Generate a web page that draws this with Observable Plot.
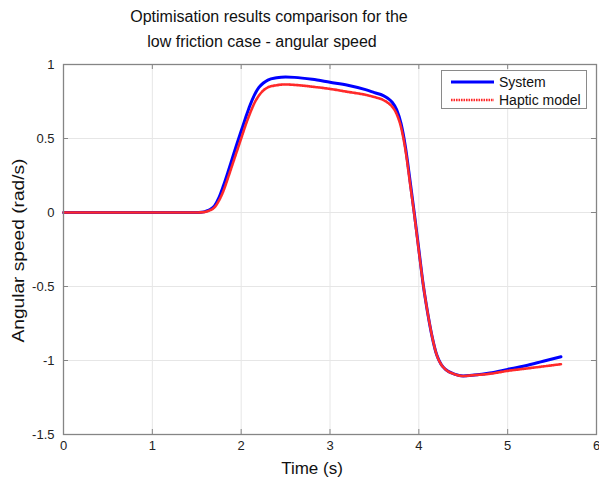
<!DOCTYPE html>
<html>
<head>
<meta charset="utf-8">
<script src="https://cdn.jsdelivr.net/npm/d3@7"></script>
<script src="https://cdn.jsdelivr.net/npm/@observablehq/plot@0.6"></script>
<style>
  body { margin: 0; background: #fff; }
  #wrap { position: relative; width: 599px; height: 479px; font-family: "Liberation Sans", Arial, sans-serif; overflow: hidden; }
  .tl { position: absolute; font-size: 16px; color: #111; white-space: nowrap; transform: translateX(-50%); }
  #legend { position: absolute; left: 441px; top: 70px; width: 146px; height: 39px; border: 1px solid #8a8a8a; background: #fff; box-sizing: border-box; }
  #legend .row { position: absolute; left: 0; height: 18px; display: flex; align-items: center; font-size: 14px; color: #111; }
  #chart { position: absolute; left: 0; top: 58px; }
  svg { overflow: visible; }
</style>
</head>
<body>
<div id="wrap">
  <div class="tl" style="left:269px; top:8px;">Optimisation results comparison for the</div>
  <div class="tl" style="left:262px; top:33px;">low friction case - angular speed</div>
  <div id="chart"></div>
  <div id="legend"></div>
</div>
<script>
const xTicks = [0, 1, 2, 3, 4, 5, 6];
const yTicks = [-1.5, -1, -0.5, 0, 0.5, 1];
const seriesNames = ["System", "Haptic model"];
const time = [0, 0.5, 1.0, 1.5, 1.55, 1.6, 1.65, 1.7, 1.75, 1.8, 1.85, 1.9, 1.95, 2.0, 2.05, 2.1, 2.15, 2.2, 2.25, 2.3, 2.4, 2.5, 2.6, 2.8, 3.0, 3.2, 3.4, 3.5, 3.6, 3.65, 3.7, 3.75, 3.8, 3.85, 3.9, 3.95, 4.0, 4.05, 4.1, 4.15, 4.2, 4.25, 4.3, 4.4, 4.5, 4.6, 4.8, 5.0, 5.2, 5.4, 5.6];
const system = [0, 0, 0, 0, 0.002, 0.008, 0.02, 0.045, 0.1, 0.18, 0.27, 0.365, 0.46, 0.55, 0.64, 0.725, 0.795, 0.845, 0.875, 0.895, 0.91, 0.915, 0.913, 0.9, 0.88, 0.86, 0.83, 0.81, 0.79, 0.772, 0.745, 0.695, 0.6, 0.44, 0.22, -0.01, -0.25, -0.49, -0.68, -0.84, -0.96, -1.025, -1.06, -1.092, -1.105, -1.1, -1.085, -1.06, -1.035, -1.005, -0.975];
const haptic = [0, 0, 0, 0, 0.001, 0.005, 0.015, 0.035, 0.08, 0.145, 0.23, 0.32, 0.41, 0.5, 0.59, 0.67, 0.74, 0.79, 0.825, 0.845, 0.86, 0.865, 0.862, 0.85, 0.835, 0.815, 0.795, 0.78, 0.76, 0.742, 0.715, 0.665, 0.575, 0.42, 0.2, -0.02, -0.26, -0.49, -0.68, -0.84, -0.96, -1.025, -1.06, -1.092, -1.105, -1.1, -1.09, -1.07, -1.055, -1.04, -1.025];

const sysData = time.map((t, i) => ({t, v: system[i]}));
const hapData = time.map((t, i) => ({t, v: haptic[i]}));

const W = 599, H = 421, mL = 63, mR = 3, mT = 6, mB = 45;
const fw = W - mL - mR, fh = H - mT - mB;
const tickLen = 5;
const frameColor = "#858585";
const gridColor = "#e6e6e6";
const fmt = d => String(d);

const chart = Plot.plot({
  width: W, height: H,
  marginLeft: mL, marginRight: mR, marginTop: mT, marginBottom: mB,
  style: {fontFamily: "'Liberation Sans', Arial, sans-serif", background: "#fff", color: "#222"},
  x: {domain: [0, 6], ticks: xTicks},
  y: {domain: [-1.5, 1], ticks: yTicks},
  marks: [
    Plot.gridX(xTicks, {stroke: gridColor, strokeOpacity: 1, strokeWidth: 1}),
    Plot.gridY(yTicks, {stroke: gridColor, strokeOpacity: 1, strokeWidth: 1}),
    Plot.ruleX(xTicks, {x: d => d, insetTop: fh - tickLen, stroke: frameColor}),
    Plot.ruleX(xTicks, {x: d => d, insetBottom: fh - tickLen, stroke: frameColor}),
    Plot.ruleY(yTicks, {y: d => d, insetRight: fw - tickLen, stroke: frameColor}),
    Plot.ruleY(yTicks, {y: d => d, insetLeft: fw - tickLen, stroke: frameColor}),
    Plot.axisX(xTicks, {tickSize: 0, tickPadding: 6, fontSize: 13, fill: "#222", label: null, tickFormat: fmt}),
    Plot.axisY(yTicks, {tickSize: 0, tickPadding: 9, fontSize: 13, fill: "#222", label: null, tickFormat: fmt}),
    Plot.line(sysData, {x: "t", y: "v", stroke: "#0000ff", strokeWidth: 3, curve: "monotone-x"}),
    Plot.line(hapData, {x: "t", y: "v", stroke: "#ff2a2a", strokeWidth: 2.6, strokeDasharray: "1.6 0.9", curve: "monotone-x"}),
    Plot.frame({stroke: frameColor, strokeWidth: 1.3}),
    Plot.text(["Time (s)"], {frameAnchor: "bottom", textAnchor: "middle", lineAnchor: "middle", dx: -18, dy: 34, fontSize: 17, fill: "#111"}),
    Plot.text(["Angular speed (rad/s)"], {frameAnchor: "left", textAnchor: "middle", lineAnchor: "middle", rotate: -90, dx: -45, dy: 1, fontSize: 17, fill: "#111", className: "ylab"})
  ]
});
document.getElementById("chart").appendChild(chart);
d3.select(chart).selectAll(".ylab text").attr("textLength", 184).attr("lengthAdjust", "spacingAndGlyphs");

const legend = d3.select("#legend");
const rows = [
  {name: seriesNames[0], color: "#0000ff", dash: null, width: 3, top: 2},
  {name: seriesNames[1], color: "#ff2a2a", dash: "1.6 0.9", width: 2.6, top: 20}
];
rows.forEach(r => {
  const row = legend.append("div").attr("class", "row").style("top", r.top + "px");
  const s = row.append("svg").attr("width", 57).attr("height", 18);
  const ln = s.append("line").attr("x1", 9).attr("x2", 52).attr("y1", 9).attr("y2", 9)
    .attr("stroke", r.color).attr("stroke-width", r.width);
  if (r.dash) ln.attr("stroke-dasharray", r.dash);
  row.append("span").text(r.name);
});
</script>
</body>
</html>
